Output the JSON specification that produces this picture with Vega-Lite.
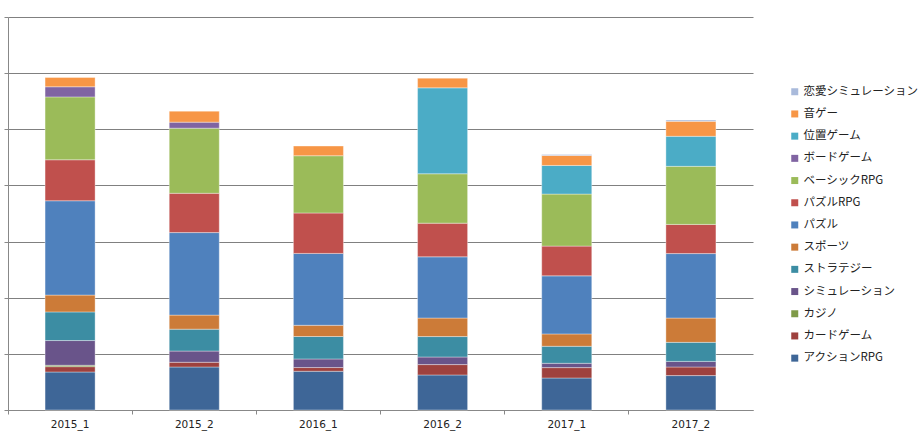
{
  "$schema": "https://vega.github.io/schema/vega-lite/v6.json",
  "autosize": {"type": "none"},
  "padding": {"left": 8, "top": 17, "right": 168, "bottom": 29},
  "width": 745,
  "height": 393,
  "background": "white",
  "config": {"view": {"stroke": null}},
  "data": {"values": [
    {"period": "2015_1", "genre": "アクションRPG", "o": 1, "value": 6.77},
    {"period": "2015_1", "genre": "カードゲーム", "o": 2, "value": 0.95},
    {"period": "2015_1", "genre": "カジノ", "o": 3, "value": 0.25},
    {"period": "2015_1", "genre": "シミュレーション", "o": 4, "value": 4.4},
    {"period": "2015_1", "genre": "ストラテジー", "o": 5, "value": 5.1},
    {"period": "2015_1", "genre": "スポーツ", "o": 6, "value": 3.0},
    {"period": "2015_1", "genre": "パズル", "o": 7, "value": 16.8},
    {"period": "2015_1", "genre": "パズルRPG", "o": 8, "value": 7.3},
    {"period": "2015_1", "genre": "ベーシックRPG", "o": 9, "value": 11.2},
    {"period": "2015_1", "genre": "ボードゲーム", "o": 10, "value": 1.8},
    {"period": "2015_1", "genre": "音ゲー", "o": 12, "value": 1.66},

    {"period": "2015_2", "genre": "アクションRPG", "o": 1, "value": 7.66},
    {"period": "2015_2", "genre": "カードゲーム", "o": 2, "value": 0.84},
    {"period": "2015_2", "genre": "シミュレーション", "o": 4, "value": 2.0},
    {"period": "2015_2", "genre": "ストラテジー", "o": 5, "value": 3.9},
    {"period": "2015_2", "genre": "スポーツ", "o": 6, "value": 2.5},
    {"period": "2015_2", "genre": "パズル", "o": 7, "value": 14.7},
    {"period": "2015_2", "genre": "パズルRPG", "o": 8, "value": 7.0},
    {"period": "2015_2", "genre": "ベーシックRPG", "o": 9, "value": 11.6},
    {"period": "2015_2", "genre": "ボードゲーム", "o": 10, "value": 1.07},
    {"period": "2015_2", "genre": "音ゲー", "o": 12, "value": 1.96},

    {"period": "2016_1", "genre": "アクションRPG", "o": 1, "value": 6.9},
    {"period": "2016_1", "genre": "カードゲーム", "o": 2, "value": 0.66},
    {"period": "2016_1", "genre": "シミュレーション", "o": 4, "value": 1.53},
    {"period": "2016_1", "genre": "ストラテジー", "o": 5, "value": 4.0},
    {"period": "2016_1", "genre": "スポーツ", "o": 6, "value": 2.0},
    {"period": "2016_1", "genre": "パズル", "o": 7, "value": 12.8},
    {"period": "2016_1", "genre": "パズルRPG", "o": 8, "value": 7.2},
    {"period": "2016_1", "genre": "ベーシックRPG", "o": 9, "value": 10.2},
    {"period": "2016_1", "genre": "音ゲー", "o": 12, "value": 1.73},

    {"period": "2016_2", "genre": "アクションRPG", "o": 1, "value": 6.24},
    {"period": "2016_2", "genre": "カードゲーム", "o": 2, "value": 1.85},
    {"period": "2016_2", "genre": "シミュレーション", "o": 4, "value": 1.35},
    {"period": "2016_2", "genre": "ストラテジー", "o": 5, "value": 3.64},
    {"period": "2016_2", "genre": "スポーツ", "o": 6, "value": 3.3},
    {"period": "2016_2", "genre": "パズル", "o": 7, "value": 10.9},
    {"period": "2016_2", "genre": "パズルRPG", "o": 8, "value": 6.0},
    {"period": "2016_2", "genre": "ベーシックRPG", "o": 9, "value": 8.8},
    {"period": "2016_2", "genre": "位置ゲーム", "o": 11, "value": 15.3},
    {"period": "2016_2", "genre": "音ゲー", "o": 12, "value": 1.73},

    {"period": "2017_1", "genre": "アクションRPG", "o": 1, "value": 5.7},
    {"period": "2017_1", "genre": "カードゲーム", "o": 2, "value": 1.85},
    {"period": "2017_1", "genre": "シミュレーション", "o": 4, "value": 0.77},
    {"period": "2017_1", "genre": "ストラテジー", "o": 5, "value": 3.03},
    {"period": "2017_1", "genre": "スポーツ", "o": 6, "value": 2.2},
    {"period": "2017_1", "genre": "パズル", "o": 7, "value": 10.34},
    {"period": "2017_1", "genre": "パズルRPG", "o": 8, "value": 5.3},
    {"period": "2017_1", "genre": "ベーシックRPG", "o": 9, "value": 9.27},
    {"period": "2017_1", "genre": "位置ゲーム", "o": 11, "value": 5.1},
    {"period": "2017_1", "genre": "音ゲー", "o": 12, "value": 1.78},
    {"period": "2017_1", "genre": "恋愛シミュレーション", "o": 13, "value": 0.15},

    {"period": "2017_2", "genre": "アクションRPG", "o": 1, "value": 6.13},
    {"period": "2017_2", "genre": "カードゲーム", "o": 2, "value": 1.53},
    {"period": "2017_2", "genre": "シミュレーション", "o": 4, "value": 1.0},
    {"period": "2017_2", "genre": "ストラテジー", "o": 5, "value": 3.39},
    {"period": "2017_2", "genre": "スポーツ", "o": 6, "value": 4.33},
    {"period": "2017_2", "genre": "パズル", "o": 7, "value": 11.48},
    {"period": "2017_2", "genre": "パズルRPG", "o": 8, "value": 5.2},
    {"period": "2017_2", "genre": "ベーシックRPG", "o": 9, "value": 10.34},
    {"period": "2017_2", "genre": "位置ゲーム", "o": 11, "value": 5.35},
    {"period": "2017_2", "genre": "音ゲー", "o": 12, "value": 2.67},
    {"period": "2017_2", "genre": "恋愛シミュレーション", "o": 13, "value": 0.23}
  ]},
  "mark": {"type": "bar", "width": {"band": 0.403}, "stroke": "white", "strokeWidth": 0.6, "strokeOpacity": 0.6},
  "encoding": {
    "x": {
      "field": "period", "type": "nominal",
      "scale": {"paddingInner": 0, "paddingOuter": 0},
      "axis": {
        "title": null, "labelAngle": 0, "bandPosition": 0,
        "domainColor": "#888888", "tickColor": "#888888", "tickSize": 4,
        "labelFont": "DejaVu Sans", "labelFontSize": 10.5, "labelColor": "#222222",
        "labelPadding": 5, "grid": false
      }
    },
    "y": {
      "field": "value", "type": "quantitative", "stack": "zero",
      "scale": {"domain": [0, 70], "nice": false},
      "axis": {
        "title": null, "labels": false, "values": [0, 10, 20, 30, 40, 50, 60, 70],
        "grid": true, "gridColor": "#808080", "gridWidth": 1,
        "domainColor": "#888888", "tickColor": "#888888", "tickSize": 4
      }
    },
    "color": {
      "field": "genre", "type": "nominal",
      "scale": {
        "domain": ["恋愛シミュレーション", "音ゲー", "位置ゲーム", "ボードゲーム", "ベーシックRPG", "パズルRPG", "パズル", "スポーツ", "ストラテジー", "シミュレーション", "カジノ", "カードゲーム", "アクションRPG"],
        "range": ["#A9BADB", "#F79646", "#4BACC6", "#8064A2", "#9BBB59", "#C0504D", "#4F81BD", "#CC7B38", "#3C8DA3", "#69548A", "#7F9A48", "#9E413E", "#3E6697"]
      },
      "legend": {
        "title": null, "orient": "none", "legendX": 781, "legendY": 69,
        "symbolType": "square", "symbolSize": 49, "symbolStrokeWidth": 0,
        "labelFont": "Noto Sans CJK JP", "labelFontSize": 11.5, "labelColor": "#222222",
        "labelOffset": 3, "rowPadding": 9.2, "labelLimit": 200
      }
    },
    "order": {"field": "o", "type": "quantitative", "sort": "ascending"}
  }
}
